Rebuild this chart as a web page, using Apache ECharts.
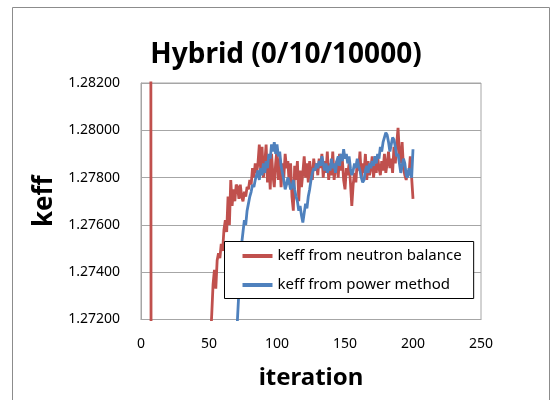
<!DOCTYPE html>
<html>
<head>
<meta charset="utf-8">
<script src="https://cdn.jsdelivr.net/npm/echarts@6/dist/echarts.min.js"></script>
<style>
  html, body { margin: 0; background: #fff; }
  #chart { width: 550px; height: 400px; }
</style>
</head>
<body>
<div id="chart"></div>
<script>
  var firstIteration = 1;
  var seriesNames = ['keff from neutron balance', 'keff from power method'];

  // keff from neutron balance, iteration 1..200
  var keffBalance = [
    1.3350, 1.3310, 1.3240, 1.3190, 1.3130, 1.3080, 1.3020, 1.2230, 1.2290, 1.2335,
    1.2378, 1.2412, 1.2445, 1.2473, 1.2500, 1.2522, 1.2545, 1.2563, 1.2581, 1.2598,
    1.2612, 1.2627, 1.2639, 1.2651, 1.2662, 1.2671, 1.2679, 1.2686, 1.2692, 1.2697,
    1.2701, 1.2704, 1.2706, 1.2708, 1.2710, 1.2709, 1.2711, 1.2702, 1.2698, 1.2701,
    1.2699, 1.2702, 1.2700, 1.2703, 1.2701, 1.2704, 1.2702, 1.2703, 1.2707, 1.2704,
    1.2710, 1.2722, 1.2735, 1.2741, 1.2733, 1.2745, 1.2748, 1.2746, 1.2752, 1.2749,
    1.2758, 1.2762, 1.2757, 1.2772, 1.2760, 1.2779, 1.2768, 1.2775, 1.2770, 1.2777,
    1.2776, 1.2771, 1.2777, 1.2772, 1.2770, 1.2774, 1.2772, 1.2776, 1.2775, 1.2779,
    1.2777, 1.2784, 1.2780, 1.2786, 1.2782, 1.2786, 1.2794, 1.2783, 1.2793, 1.2780,
    1.2786, 1.2794, 1.2778, 1.2788, 1.2775, 1.2790, 1.2781, 1.2776, 1.2786, 1.2792,
    1.2779, 1.2788, 1.2776, 1.2786, 1.2780, 1.2790, 1.2784, 1.2787, 1.2777, 1.2786,
    1.2772, 1.2766, 1.2785, 1.2779, 1.2787, 1.2770, 1.2783, 1.2776, 1.2782, 1.2789,
    1.2780, 1.2786, 1.2778, 1.2787, 1.2782, 1.2779, 1.2788, 1.2783, 1.2786, 1.2781,
    1.2788, 1.2784, 1.2790, 1.2780, 1.2787, 1.2782, 1.2791, 1.2779, 1.2786, 1.2781,
    1.2791, 1.2779, 1.2784, 1.2787, 1.2780, 1.2790, 1.2783, 1.2788, 1.2779, 1.2775,
    1.2784, 1.2781, 1.2786, 1.2778, 1.2768, 1.2777, 1.2782, 1.2778, 1.2787, 1.2783,
    1.2791, 1.2780, 1.2786, 1.2782, 1.2790, 1.2779, 1.2787, 1.2781, 1.2784, 1.2789,
    1.2780, 1.2786, 1.2782, 1.2789, 1.2784, 1.2781, 1.2787, 1.2783, 1.2790, 1.2782,
    1.2786, 1.2791, 1.2784, 1.2788, 1.2782, 1.2793, 1.2786, 1.2794, 1.2801, 1.2790,
    1.2786, 1.2795, 1.2784, 1.2781, 1.2779, 1.2783, 1.2781, 1.2789, 1.2780, 1.2771
  ];

  // keff from power method, iteration 1..200
  var keffPower = [
    1.2100, 1.2165, 1.2218, 1.2262, 1.2300, 1.2333, 1.2362, 1.2388, 1.2411, 1.2432,
    1.2451, 1.2468, 1.2484, 1.2498, 1.2511, 1.2523, 1.2534, 1.2544, 1.2554, 1.2563,
    1.2572, 1.2580, 1.2588, 1.2595, 1.2602, 1.2609, 1.2615, 1.2621, 1.2627, 1.2632,
    1.2637, 1.2642, 1.2647, 1.2651, 1.2655, 1.2659, 1.2663, 1.2666, 1.2669, 1.2672,
    1.2675, 1.2678, 1.2680, 1.2683, 1.2685, 1.2687, 1.2689, 1.2691, 1.2693, 1.2695,
    1.2696, 1.2698, 1.2699, 1.2700, 1.2701, 1.2702, 1.2703, 1.2704, 1.2705, 1.2706,
    1.2707, 1.2708, 1.2706, 1.2707, 1.2708, 1.2706, 1.2707, 1.2708, 1.2706, 1.2709,
    1.2721, 1.2732, 1.2741, 1.2752, 1.2757, 1.2762, 1.2760, 1.2766, 1.2769, 1.2772,
    1.2774, 1.2777, 1.2776, 1.2779, 1.2781, 1.2783, 1.2779, 1.2784, 1.2781, 1.2786,
    1.2782, 1.2787, 1.2784, 1.2790, 1.2788, 1.2794, 1.2791, 1.2795, 1.2790, 1.2794,
    1.2789, 1.2791, 1.2785, 1.2782, 1.2779, 1.2775, 1.2777, 1.2780, 1.2778, 1.2775,
    1.2776, 1.2779, 1.2775, 1.2772, 1.2770, 1.2766, 1.2768, 1.2764, 1.2761, 1.2765,
    1.2769, 1.2767, 1.2772, 1.2775, 1.2779, 1.2782, 1.2784, 1.2783, 1.2786, 1.2784,
    1.2787, 1.2785, 1.2789, 1.2786, 1.2783, 1.2786, 1.2782, 1.2785, 1.2783, 1.2788,
    1.2784, 1.2786, 1.2782, 1.2787, 1.2789, 1.2785, 1.2790, 1.2787, 1.2792, 1.2788,
    1.2790, 1.2786, 1.2789, 1.2784, 1.2781, 1.2783, 1.2786, 1.2784, 1.2788, 1.2785,
    1.2783, 1.2780, 1.2778, 1.2779, 1.2783, 1.2785, 1.2782, 1.2786, 1.2784, 1.2787,
    1.2785, 1.2789, 1.2786, 1.2790, 1.2788, 1.2793, 1.2791, 1.2795, 1.2797, 1.2799,
    1.2798, 1.2795, 1.2791, 1.2794, 1.2797, 1.2796, 1.2793, 1.2789, 1.2790, 1.2786,
    1.2782, 1.2785, 1.2788, 1.2786, 1.2781, 1.2780, 1.2784, 1.2782, 1.2780, 1.2792
  ];

  var xMin = 0, xMax = 250, xStep = 50;
  var yMin = 1.272, yMax = 1.282, yStep = 0.002;

  var fontFamily = '"Noto Sans", "DejaVu Sans", sans-serif';
  var gridColor = '#a6a6a6';

  function toPairs(values) {
    return values.map(function(v, i) {
      return [firstIteration + i, v];
    });
  }

  var chart = echarts.init(document.getElementById('chart'), null, { renderer: 'canvas' });

  chart.setOption({
    backgroundColor: '#fff',
    animation: false,
    textStyle: { fontFamily: fontFamily },
    title: {
      text: 'Hybrid (0/10/10000)',
      left: 281,
      top: 36,
      textAlign: 'center',
      textStyle: { fontFamily: fontFamily, fontSize: 28, fontWeight: 'bold', color: '#000' }
    },
    graphic: [
      {
        type: 'rect',
        shape: { x: 12.5, y: 7.5, width: 537, height: 400 },
        style: { fill: 'none', stroke: '#8c8c8c', lineWidth: 1 },
        silent: true
      }
    ],
    grid: {
      left: 141,
      top: 83,
      width: 340,
      height: 236.5,
      show: true,
      borderColor: gridColor,
      borderWidth: 1,
      containLabel: false
    },
    legend: {
      data: seriesNames,
      orient: 'vertical',
      left: 224.5,
      top: 241.5,
      padding: [7, 12, 6, 18],
      itemGap: 14,
      itemWidth: 30,
      itemHeight: 4,
      itemTextGap: 4,
      icon: 'rect',
      backgroundColor: '#fff',
      borderColor: '#000',
      borderWidth: 1,
      textStyle: { fontFamily: fontFamily, fontSize: 15, color: '#000' }
    },
    xAxis: {
      type: 'value',
      min: xMin,
      max: xMax,
      interval: xStep,
      name: 'iteration',
      nameLocation: 'middle',
      nameGap: 47,
      nameTextStyle: { fontFamily: fontFamily, fontSize: 24, fontWeight: 'bold', color: '#000' },
      axisLine: { show: true, lineStyle: { color: gridColor } },
      axisTick: { show: false },
      splitLine: { show: false },
      axisLabel: { color: '#000', fontSize: 14, margin: 18 }
    },
    yAxis: {
      type: 'value',
      min: yMin,
      max: yMax,
      interval: yStep,
      name: 'keff',
      nameLocation: 'middle',
      nameGap: 81,
      nameRotate: 90,
      nameTextStyle: { fontFamily: fontFamily, fontSize: 26, fontWeight: 'bold', color: '#000' },
      axisLine: { show: true, lineStyle: { color: gridColor } },
      axisTick: { show: false },
      splitLine: { show: true, lineStyle: { color: gridColor, width: 1 } },
      axisLabel: {
        color: '#000',
        fontSize: 14,
        margin: 21,
        formatter: function(v) { return v.toFixed(5); }
      }
    },
    series: [
      {
        name: seriesNames[0],
        type: 'line',
        data: toPairs(keffBalance),
        symbol: 'none',
        clip: true,
        lineStyle: { color: '#c0504d', width: 2.8 },
        itemStyle: { color: '#c0504d' }
      },
      {
        name: seriesNames[1],
        type: 'line',
        data: toPairs(keffPower),
        symbol: 'none',
        clip: true,
        lineStyle: { color: '#4f81bd', width: 2.8 },
        itemStyle: { color: '#4f81bd' }
      }
    ]
  });
</script>
</body>
</html>
